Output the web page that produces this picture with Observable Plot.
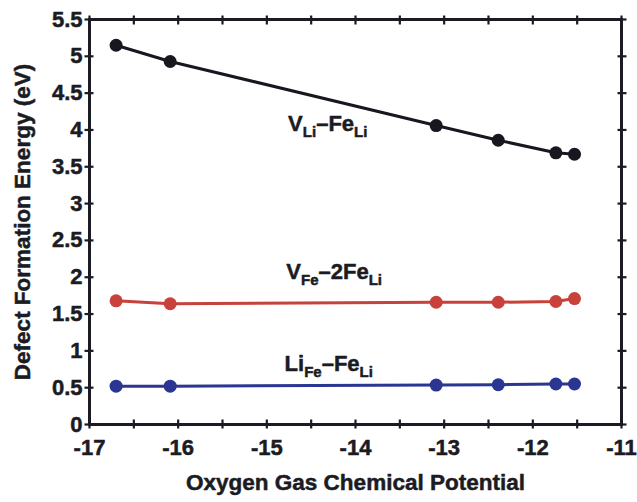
<!DOCTYPE html>
<html>
<head>
<meta charset="utf-8">
<script src="https://cdn.jsdelivr.net/npm/d3@7"></script>
<script src="https://cdn.jsdelivr.net/npm/@observablehq/plot@0.6"></script>
<style>
  body { margin: 0; background: #fff; }
  #chart { width: 637px; height: 502px; }
  svg { font-family: "Liberation Sans", Arial, Helvetica, sans-serif; }
</style>
</head>
<body>
<div id="chart"></div>
<script>
// Oxygen gas chemical potential (x) and defect formation energies (eV)
const mu = [-16.70, -16.09, -13.09, -12.39, -11.74, -11.53];
const vLiFeLi = [5.15, 4.93, 4.06, 3.86, 3.69, 3.67];
const vFe2FeLi = [1.68, 1.64, 1.66, 1.66, 1.67, 1.71];
const liFeFeLi = [0.52, 0.52, 0.535, 0.54, 0.55, 0.55];

const seriesNames = ["V_{Li}–Fe_{Li}", "V_{Fe}–2Fe_{Li}", "Li_{Fe}–Fe_{Li}"];
const seriesColors = ["#17171f", "#c8413a", "#2b3592"];

// label anchor positions (data coordinates)
const labelX = [-14.76, -14.78, -14.80];
const labelY = [3.98, 1.97, 0.72];

const xMajor = [-17, -16, -15, -14, -13, -12, -11];
const xMinor = [-17, -16.5, -16, -15.5, -15, -14.5, -14, -13.5, -13, -12.5, -12, -11.5, -11];
const yMajor = [0, 0.5, 1, 1.5, 2, 2.5, 3, 3.5, 4, 4.5, 5, 5.5];

const xTitle = "Oxygen Gas Chemical Potential";
const yTitle = "Defect Formation Energy (eV)";

const allSeries = [vLiFeLi, vFe2FeLi, liFeFeLi];
const rows = allSeries.flatMap((vals, i) =>
  vals.map((v, j) => ({x: mu[j], y: v, s: seriesNames[i]})));
const labels = seriesNames.map((n, i) => ({text: n, x: labelX[i], y: labelY[i]}));

const ink = "#1b1b24";
const tickStyle = {stroke: ink, strokeWidth: 2.2, fill: "none", label: null, tickSize: 9};
const heavy = {fontWeight: "bold", fill: ink, textStroke: ink, textStrokeWidth: 0.5};
const heavyText = {fontWeight: "bold", fill: ink, stroke: ink, strokeWidth: 0.5};

const svg = Plot.plot({
  width: 637,
  height: 502,
  marginLeft: 89,
  marginRight: 16,
  marginTop: 19,
  marginBottom: 78,
  style: {fontFamily: "'Liberation Sans', Arial, Helvetica, sans-serif", color: ink, background: "#fff"},
  x: {domain: [-17, -11]},
  y: {domain: [0, 5.5]},
  color: {domain: seriesNames, range: seriesColors},
  marks: [
    Plot.line(rows, {x: "x", y: "y", z: "s", stroke: "s", strokeWidth: 3}),
    Plot.dot(rows, {x: "x", y: "y", fill: "s", r: 6.5}),
    Plot.frame({stroke: ink, strokeWidth: 3}),
    // crossing ticks on all four sides
    Plot.axisX(xMinor, {...tickStyle, anchor: "bottom", dy: -4.5}),
    Plot.axisX(xMinor, {...tickStyle, anchor: "top", dy: 4.5}),
    Plot.axisY(yMajor, {...tickStyle, anchor: "left", dx: 4.5}),
    Plot.axisY(yMajor, {...tickStyle, anchor: "right", dx: -4.5}),
    // tick labels
    Plot.axisX(xMajor, {anchor: "bottom", tickSize: 0, tickPadding: 15, label: null,
      tickFormat: d => String(d), fontSize: 22, ...heavy}),
    Plot.axisY(yMajor, {anchor: "left", tickSize: 0, tickPadding: 7, label: null,
      tickFormat: d => String(d), fontSize: 22, ...heavy}),
    // axis titles
    Plot.text([xTitle], {frameAnchor: "bottom", textAnchor: "middle", dy: 65, fontSize: 22.5, ...heavyText}),
    Plot.text([yTitle], {frameAnchor: "left", textAnchor: "middle", dx: -67, rotate: -90, fontSize: 22.5, ...heavyText}),
    // series labels
    Plot.text(labels, {x: "x", y: "y", text: "text", textAnchor: "start", lineAnchor: "bottom",
      fontSize: 22, ...heavyText})
  ]
});

// turn _{...} into subscripts
d3.select(svg).selectAll("text").each(function () {
  const t = this.textContent;
  if (!t.includes("_{")) return;
  const parts = t.split(/(_\{[^}]*\})/).filter(p => p);
  const el = d3.select(this);
  el.text(null);
  let shifted = false;
  parts.forEach(p => {
    const m = p.match(/^_\{(.*)\}$/);
    const ts = el.append("tspan");
    if (m) {
      ts.text(m[1]).attr("font-size", 15).attr("dy", shifted ? 0 : 6);
      shifted = true;
    } else {
      ts.text(p);
      if (shifted) { ts.attr("dy", -6); shifted = false; }
    }
  });
});

document.getElementById("chart").appendChild(svg);
</script>
</body>
</html>
